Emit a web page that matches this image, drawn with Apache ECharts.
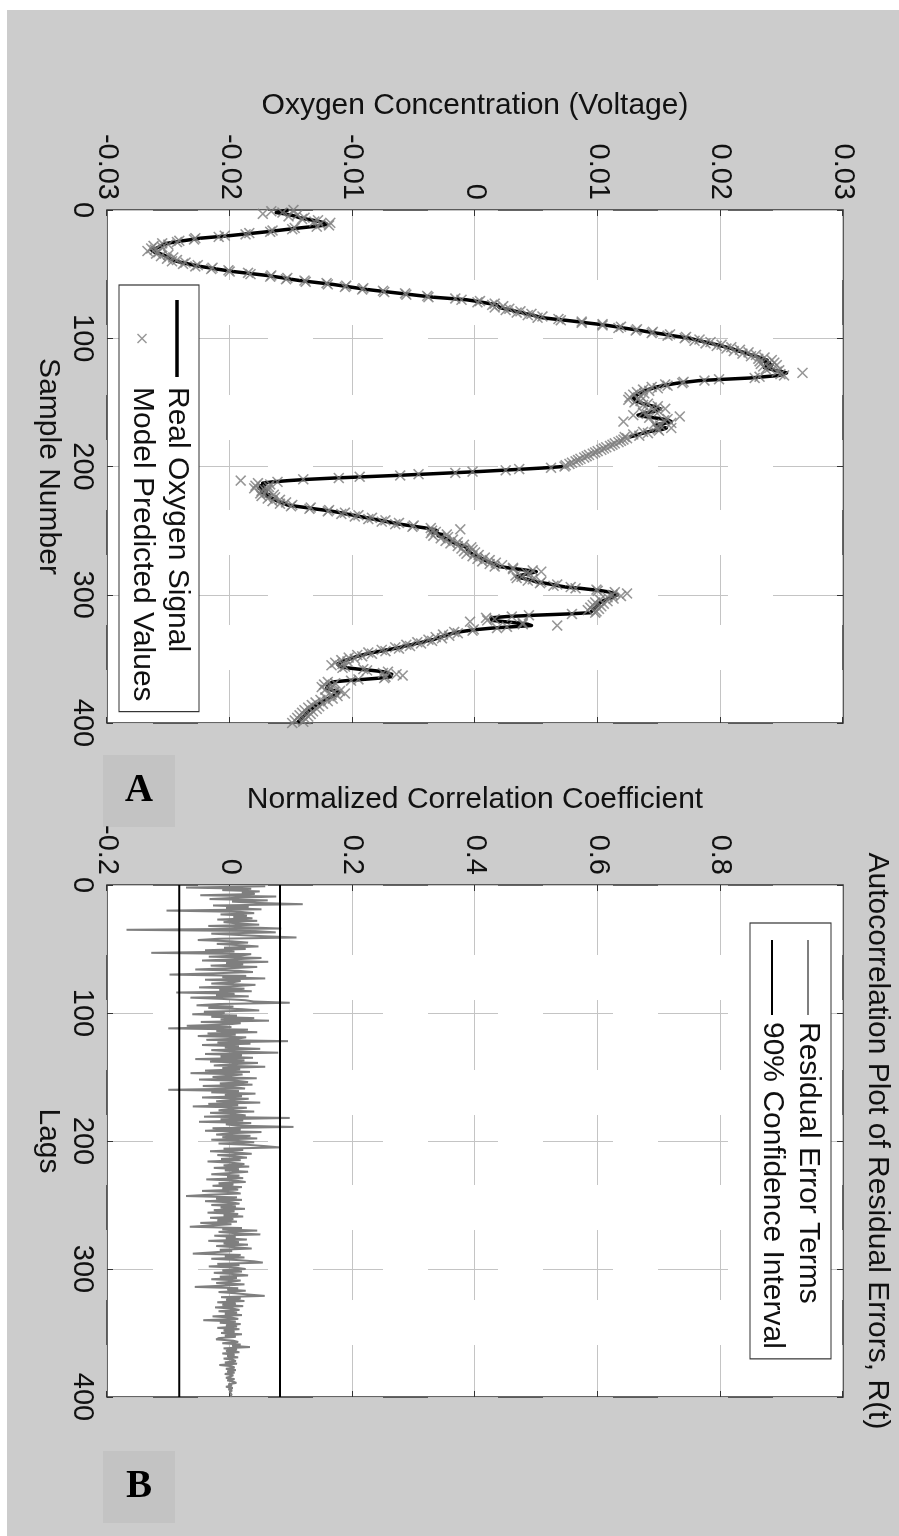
<!DOCTYPE html>
<html>
<head>
<meta charset="utf-8">
<title>Oxygen signal model and residual autocorrelation</title>
<script src="https://cdn.jsdelivr.net/npm/echarts@6.0.0/dist/echarts.min.js"></script>
<style>
  html, body { margin: 0; padding: 0; background: #ffffff; width: 899px; height: 1536px; overflow: hidden; }
  /* The figure is laid out landscape and turned a quarter turn clockwise onto the portrait page. */
  #chart {
    position: absolute; left: 0; top: 0;
    width: 1526px; height: 892px;
    transform-origin: 0 0;
    transform: translate(899px, 10px) rotate(90deg);
  }
</style>
</head>
<body>
<div id="chart"></div>
<script>
// ---------------- data ----------------
// Panel A: measured oxygen signal (V), one value per sample 0..400; null = missing samples
const oxygenReal = [
  -0.0152, -0.0158, -0.0162, -0.0155, -0.0150, -0.0146, -0.0143, -0.0138, -0.0132, -0.0127,
  -0.0123, -0.0121, -0.0124, -0.0133, -0.0143, -0.0152, -0.0161, -0.0170, -0.0180, -0.0190,
  -0.0200, -0.0212, -0.0224, -0.0231, -0.0238, -0.0245, -0.0251, -0.0254, -0.0256, -0.0258,
  -0.0260, -0.0264, -0.0263, -0.0261, -0.0257, -0.0254, -0.0252, -0.0250, -0.0248, -0.0246,
  -0.0243, -0.0239, -0.0234, -0.0229, -0.0224, -0.0217, -0.0211, -0.0204, -0.0197, -0.0188,
  -0.0179, -0.0170, -0.0163, -0.0156, -0.0150, -0.0143, -0.0134, -0.0125, -0.0116, -0.0109,
  -0.0102, -0.0095, -0.0088, -0.0079, -0.0070, -0.0061, -0.0052, -0.0043, -0.0034, -0.0020,
  -0.0007, 0.0000, 0.0006, 0.0012, 0.0018, 0.0019, 0.0020, 0.0024, 0.0029, 0.0033,
  0.0038, 0.0042, 0.0047, 0.0051, 0.0055, 0.0064, 0.0074, 0.0083, 0.0091, 0.0100,
  0.0108, 0.0115, 0.0121, 0.0128, 0.0135, 0.0141, 0.0148, 0.0155, 0.0161, 0.0168,
  0.0175, 0.0179, 0.0183, 0.0188, 0.0192, 0.0197, 0.0201, 0.0205, 0.0209, 0.0212,
  0.0215, 0.0219, 0.0222, 0.0225, 0.0229, 0.0232, 0.0235, 0.0238, 0.0236, 0.0240,
  0.0237, 0.0242, 0.0239, 0.0236, 0.0241, 0.0244, 0.0250, 0.0254, 0.0253, 0.0248,
  0.0236, 0.0224, 0.0203, 0.0183, 0.0174, 0.0165, 0.0159, 0.0153, 0.0148, 0.0145,
  0.0141, 0.0138, 0.0136, 0.0134, 0.0133, 0.0131, 0.0130, 0.0129, 0.0129, 0.0131,
  0.0134, 0.0137, 0.0141, 0.0145, 0.0148, 0.0151, 0.0150, 0.0146, 0.0141, 0.0136,
  0.0133, 0.0138, 0.0146, 0.0153, 0.0158, 0.0160, 0.0156, 0.0150, 0.0147, 0.0152,
  0.0156, 0.0153, 0.0146, 0.0141, 0.0137, 0.0133, 0.0130, 0.0126, null, null,
  null, null, null, null, null, null, null, null, null, null,
  null, null, null, null, null, null, null, null, null, null,
  0.0072, 0.0058, 0.0040, 0.0021, 0.0002, -0.0020, -0.0042, -0.0065, -0.0090, -0.0115,
  -0.0136, -0.0152, -0.0165, -0.0173, -0.0171, -0.0175, -0.0172, -0.0176, -0.0173, -0.0170,
  -0.0174, -0.0171, -0.0168, -0.0170, -0.0167, -0.0165, -0.0163, -0.0161, -0.0158, -0.0155,
  -0.0153, -0.0146, -0.0138, -0.0131, -0.0123, -0.0116, -0.0110, -0.0105, -0.0099, -0.0094,
  -0.0088, -0.0083, -0.0077, -0.0072, -0.0066, -0.0061, -0.0054, -0.0047, -0.0040, -0.0034,
  -0.0031, -0.0036, -0.0032, -0.0027, -0.0030, -0.0026, -0.0024, -0.0022, -0.0020, -0.0018,
  -0.0016, -0.0013, -0.0010, -0.0007, -0.0007, -0.0006, -0.0005, -0.0004, -0.0003, -0.0001,
  0.0002, 0.0004, 0.0006, 0.0008, 0.0010, 0.0013, 0.0016, 0.0018, 0.0020, 0.0027,
  0.0035, 0.0043, 0.0050, 0.0046, 0.0041, 0.0037, 0.0034, 0.0038, 0.0043, 0.0047,
  0.0050, 0.0057, 0.0063, 0.0068, 0.0074, 0.0086, 0.0095, 0.0104, 0.0110, 0.0113,
  0.0116, 0.0115, 0.0112, 0.0109, 0.0106, 0.0104, 0.0102, 0.0101, 0.0100, 0.0099,
  0.0098, 0.0097, 0.0096, 0.0095, 0.0094, 0.0075, 0.0048, 0.0026, 0.0013, 0.0012,
  0.0014, 0.0024, 0.0035, 0.0043, 0.0046, 0.0030, 0.0014, 0.0003, -0.0006, -0.0013,
  -0.0018, -0.0022, -0.0025, -0.0028, -0.0031, -0.0034, -0.0039, -0.0043, -0.0048, -0.0052,
  -0.0057, -0.0061, -0.0066, -0.0072, -0.0077, -0.0083, -0.0088, -0.0092, -0.0096, -0.0099,
  -0.0102, -0.0105, -0.0108, -0.0110, -0.0112, -0.0113, -0.0110, -0.0104, -0.0095, -0.0084,
  -0.0075, -0.0071, -0.0068, -0.0067, -0.0069, -0.0078, -0.0091, -0.0105, -0.0116, -0.0118,
  -0.0119, -0.0120, -0.0121, -0.0121, -0.0118, -0.0114, -0.0111, -0.0110, -0.0113, -0.0116,
  -0.0118, -0.0120, -0.0122, -0.0124, -0.0126, -0.0128, -0.0129, -0.0131, -0.0132, -0.0133,
  -0.0135, -0.0136, -0.0137, -0.0138, -0.0139, -0.0140, -0.0141, -0.0142, -0.0143, -0.0144,
  -0.0145
];

// Panel A: model predicted values (V), one value per sample 0..400
const oxygenPredicted = [
  -0.0148, -0.0166, -0.0157, -0.0173, -0.0145, -0.0152, -0.0139, -0.0141, -0.0128, -0.0131,
  -0.0118, -0.0126, -0.0119, -0.0129, -0.0147, -0.0149, -0.0165, -0.0167, -0.0184, -0.0187,
  -0.0204, -0.0209, -0.0228, -0.0229, -0.0241, -0.0243, -0.0255, -0.0250, -0.0262, -0.0255,
  -0.0264, -0.0261, -0.0267, -0.0258, -0.0260, -0.0250, -0.0256, -0.0246, -0.0251, -0.0243,
  -0.0247, -0.0236, -0.0238, -0.0226, -0.0228, -0.0214, -0.0215, -0.0201, -0.0200, -0.0185,
  -0.0183, -0.0166, -0.0167, -0.0153, -0.0154, -0.0139, -0.0138, -0.0121, -0.0120, -0.0105,
  -0.0106, -0.0091, -0.0092, -0.0075, -0.0074, -0.0057, -0.0056, -0.0039, -0.0038, -0.0016,
  -0.0011, 0.0004, 0.0002, 0.0016, 0.0014, 0.0023, 0.0016, 0.0028, 0.0025, 0.0037,
  0.0034, 0.0046, 0.0043, 0.0055, 0.0051, 0.0068, 0.0070, 0.0087, 0.0087, 0.0104,
  0.0104, 0.0119, 0.0117, 0.0132, 0.0131, 0.0145, 0.0144, 0.0159, 0.0157, 0.0172,
  0.0171, 0.0183, 0.0179, 0.0192, 0.0188, 0.0201, 0.0197, 0.0209, 0.0205, 0.0216,
  0.0211, 0.0223, 0.0218, 0.0229, 0.0225, 0.0236, 0.0231, 0.0242, 0.0232, 0.0244,
  0.0233, 0.0246, 0.0235, 0.0240, 0.0237, 0.0248, 0.0246, 0.0267, 0.0249, 0.0252,
  0.0232, 0.0228, 0.0199, 0.0187, 0.0170, 0.0169, 0.0155, 0.0157, 0.0144, 0.0149,
  0.0137, 0.0142, 0.0132, 0.0138, 0.0129, 0.0135, 0.0126, 0.0133, 0.0125, 0.0135,
  0.0130, 0.0141, 0.0137, 0.0149, 0.0144, 0.0155, 0.0146, 0.0150, 0.0137, 0.0140,
  0.0129, 0.0167, 0.0142, 0.0157, 0.0154, 0.0121, 0.0160, 0.0146, 0.0151, 0.0148,
  0.0160, 0.0149, 0.0150, 0.0137, 0.0141, 0.0129, 0.0134, 0.0122, 0.0124, 0.0121,
  0.0119, 0.0117, 0.0114, 0.0112, 0.0110, 0.0107, 0.0105, 0.0103, 0.0100, 0.0098,
  0.0096, 0.0093, 0.0091, 0.0089, 0.0086, 0.0084, 0.0082, 0.0079, 0.0077, 0.0074,
  0.0073, 0.0062, 0.0036, 0.0025, -0.0002, -0.0016, -0.0046, -0.0061, -0.0094, -0.0111,
  -0.0140, -0.0191, -0.0161, -0.0177, -0.0167, -0.0179, -0.0168, -0.0180, -0.0169, -0.0174,
  -0.0170, -0.0175, -0.0164, -0.0174, -0.0163, -0.0169, -0.0159, -0.0165, -0.0154, -0.0159,
  -0.0149, -0.0150, -0.0134, -0.0135, -0.0119, -0.0120, -0.0106, -0.0109, -0.0095, -0.0098,
  -0.0084, -0.0087, -0.0073, -0.0076, -0.0062, -0.0065, -0.0050, -0.0051, -0.0036, -0.0012,
  -0.0035, -0.0032, -0.0036, -0.0023, -0.0034, -0.0022, -0.0028, -0.0018, -0.0024, -0.0014,
  -0.0020, -0.0009, -0.0014, -0.0003, -0.0011, -0.0002, -0.0009, 0.0000, -0.0007, 0.0003,
  -0.0002, 0.0008, 0.0002, 0.0012, 0.0006, 0.0017, 0.0012, 0.0022, 0.0016, 0.0031,
  0.0031, 0.0047, 0.0054, 0.0042, 0.0045, 0.0033, 0.0038, 0.0034, 0.0047, 0.0043,
  0.0054, 0.0053, 0.0067, 0.0064, 0.0078, 0.0082, 0.0099, 0.0100, 0.0114, 0.0124,
  0.0112, 0.0119, 0.0108, 0.0113, 0.0102, 0.0108, 0.0098, 0.0105, 0.0096, 0.0103,
  0.0094, 0.0101, 0.0092, 0.0099, 0.0098, 0.0079, 0.0044, 0.0030, 0.0009, 0.0016,
  0.0010, -0.0004, 0.0039, 0.0039, 0.0067, 0.0026, 0.0018, -0.0001, -0.0002, -0.0017,
  -0.0014, -0.0026, -0.0021, -0.0032, -0.0027, -0.0038, -0.0035, -0.0047, -0.0044, -0.0056,
  -0.0053, -0.0065, -0.0062, -0.0076, -0.0073, -0.0087, -0.0084, -0.0096, -0.0092, -0.0103,
  -0.0098, -0.0109, -0.0104, -0.0114, -0.0108, -0.0117, -0.0106, -0.0108, -0.0091, -0.0088,
  -0.0071, -0.0075, -0.0064, -0.0059, -0.0073, -0.0074, -0.0095, -0.0101, -0.0120, -0.0114,
  -0.0123, -0.0116, -0.0125, -0.0117, -0.0122, -0.0110, -0.0115, -0.0106, -0.0117, -0.0112,
  -0.0122, -0.0116, -0.0126, -0.0120, -0.0130, -0.0124, -0.0133, -0.0127, -0.0136, -0.0129,
  -0.0139, -0.0132, -0.0141, -0.0134, -0.0143, -0.0136, -0.0145, -0.0138, -0.0147, -0.0140,
  -0.0149
];

// Panel B: autocorrelation of the residuals, lags 1..400
const residualAcf = [
  0.058, -0.071, 0.035, -0.012, 0.049, 0.020, 0.041, -0.048, 0.076, 0.010, -0.033, 0.062, 0.004, 0.045, 0.119, -0.027, 0.031, -0.006, 0.052, -0.103,
  0.018, 0.040, -0.015, 0.028, 0.006, 0.037, -0.020, 0.045, -0.010, 0.012, 0.048, -0.035, 0.023, 0.084, -0.168, 0.042, 0.075, -0.030, 0.012, 0.055,
  0.109, -0.018, -0.052, 0.004, 0.030, -0.021, 0.015, 0.047, -0.009, 0.026, -0.040, 0.008, -0.128, 0.035, 0.020, -0.034, 0.052, 0.011, -0.045, 0.063,
  -0.006, 0.022, -0.031, 0.045, 0.002, -0.056, 0.014, 0.038, -0.025, -0.098, 0.027, -0.012, 0.058, -0.040, 0.018, 0.005, -0.030, 0.042, 0.010, -0.050,
  0.024, -0.017, 0.036, -0.087, 0.008, -0.022, 0.031, -0.064, -0.012, 0.025, 0.039, 0.098, -0.018, -0.054, 0.006, -0.035, 0.020, 0.048, -0.042, -0.008,
  -0.061, 0.012, -0.030, 0.040, -0.015, 0.064, -0.047, 0.018, -0.005, -0.070, 0.003, -0.100, 0.030, -0.022, 0.045, -0.036, 0.010, -0.052, 0.027, 0.012,
  -0.038, 0.095, -0.020, 0.034, -0.045, 0.015, -0.008, 0.050, -0.030, 0.002, 0.079, -0.040, 0.020, -0.015, 0.038, -0.056, 0.024, -0.032, 0.046, 0.006,
  -0.026, 0.058, -0.012, 0.017, -0.040, 0.033, -0.064, 0.021, 0.000, -0.028, 0.044, -0.050, 0.012, 0.030, -0.016, 0.037, -0.044, 0.009, 0.025, -0.100,
  0.015, -0.030, 0.042, -0.008, 0.020, -0.045, 0.031, 0.005, -0.022, 0.050, -0.035, 0.014, -0.060, 0.028, 0.002, -0.018, 0.040, -0.032, 0.010, 0.026,
  -0.042, 0.098, -0.015, 0.022, -0.050, 0.035, -0.006, 0.012, 0.104, -0.028, 0.018, -0.040, 0.052, 0.000, -0.022, 0.034, -0.012, 0.045, -0.030, 0.015,
  0.040, -0.018, 0.030, 0.058, 0.081, -0.010, 0.022, -0.032, 0.012, 0.036, -0.020, 0.008, 0.028, -0.014, 0.018, -0.036, 0.004, 0.024, -0.010, 0.032,
  -0.026, 0.015, -0.008, 0.030, 0.002, -0.030, 0.016, -0.004, 0.022, -0.038, 0.010, 0.026, -0.018, 0.006, -0.028, 0.020, -0.012, 0.014, -0.045, 0.005,
  0.018, -0.034, -0.071, 0.012, -0.022, 0.020, -0.040, 0.004, 0.016, -0.030, 0.010, -0.015, 0.025, -0.026, 0.008, -0.036, 0.014, -0.010, 0.022, -0.032,
  0.006, -0.020, 0.012, -0.048, 0.003, -0.030, -0.065, 0.020, -0.012, 0.045, -0.018, 0.008, 0.050, -0.025, 0.010, -0.006, 0.028, -0.035, 0.015, -0.010,
  0.030, -0.022, 0.008, 0.036, -0.016, 0.004, -0.028, -0.060, 0.018, -0.008, 0.024, -0.030, 0.012, 0.040, 0.054, -0.020, 0.016, -0.034, 0.010, 0.026,
  -0.012, 0.020, -0.026, 0.008, 0.030, -0.016, 0.012, -0.030, 0.018, 0.002, -0.022, 0.024, -0.010, -0.057, 0.014, -0.004, 0.026, -0.018, 0.010, 0.032,
  0.057, -0.014, 0.018, -0.006, 0.024, -0.020, 0.010, -0.012, 0.022, -0.024, 0.006, 0.016, -0.018, 0.012, -0.008, 0.020, -0.028, 0.004, 0.014, -0.043,
  0.010, -0.016, 0.018, -0.006, 0.012, -0.020, 0.016, -0.010, 0.008, -0.014, 0.020, -0.008, 0.010, -0.018, -0.022, 0.006, 0.014, -0.012, 0.018, 0.004,
  0.033, -0.010, 0.012, -0.006, 0.016, -0.012, 0.008, -0.004, 0.014, -0.010, 0.006, 0.010, -0.008, 0.012, -0.017, 0.004, 0.008, -0.006, 0.010, -0.004,
  0.008, -0.008, 0.006, 0.002, -0.006, 0.008, -0.004, 0.006, 0.011, -0.002, 0.004, -0.006, 0.005, -0.002, 0.004, 0.000, -0.003, 0.003, 0.000, 0.001
];

// Panel B: 90% confidence bound (+/-) drawn across the lag range
const confidenceBound = 0.0822;
const lagRange = [0, 400];

// Axis ranges and tick steps
const sampleAxis = { min: 0, max: 400, step: 100 };
const voltageAxis = { min: -0.03, max: 0.03, step: 0.01 };
const correlationAxis = { min: -0.2, max: 1.0, step: 0.2 };

// Text
const labels = {
  sampleName: 'Sample Number',
  lagName: 'Lags',
  voltageName: 'Oxygen Concentration (Voltage)',
  correlationName: 'Normalized Correlation Coefficient',
  title: 'Autocorrelation Plot of Residual Errors, R(t)',
  real: 'Real Oxygen Signal',
  predicted: 'Model Predicted Values',
  residual: 'Residual Error Terms',
  confidence: '90% Confidence Interval',
  panelA: 'A',
  panelB: 'B'
};

// ---------------- styling helpers ----------------
const FONT = '"Liberation Sans", Arial, Helvetica, sans-serif';
const TEXT = '#111111';
const gridLine = { show: true, lineStyle: { color: '#c4c4c4', width: 1, type: [70, 45] } };
const crossMark = 'path://M0,1L1,0L5,4L9,0L10,1L6,5L10,9L9,10L5,6L1,10L0,9L4,5Z';
// plain bar icons for line entries in the legends (width : stroke thickness)
const thickBar = 'path://M0,0L77,0L77,3.5L0,3.5Z';
const midBar = 'path://M0,0L75,0L75,2.2L0,2.2Z';
const thinBar = 'path://M0,0L75,0L75,1.8L0,1.8Z';

const tickStyle = { show: true, inside: true, length: 6, lineStyle: { color: '#333', width: 1 } };

function mainX(gridIndex, name) {
  return {
    gridIndex, type: 'value', position: 'bottom',
    min: sampleAxis.min, max: sampleAxis.max, interval: sampleAxis.step,
    name, nameLocation: 'middle', nameGap: 43,
    nameTextStyle: { fontSize: 30, color: TEXT, fontFamily: FONT },
    axisLine: { show: false, onZero: false },
    axisTick: tickStyle,
    axisLabel: { fontSize: 29, color: TEXT, fontFamily: FONT, margin: 10 },
    splitLine: gridLine
  };
}
function mirrorX(gridIndex) {
  return {
    gridIndex, type: 'value', position: 'top',
    min: sampleAxis.min, max: sampleAxis.max, interval: sampleAxis.step,
    axisLine: { show: false, onZero: false },
    axisTick: tickStyle,
    axisLabel: { show: false }, splitLine: { show: false }
  };
}
function mainY(gridIndex, range, name, gap, digits, hideMax) {
  return {
    gridIndex, type: 'value', position: 'left',
    min: range.min, max: range.max, interval: range.step,
    name, nameLocation: 'middle', nameGap: gap,
    nameTextStyle: { fontSize: 30, color: TEXT, fontFamily: FONT },
    axisLine: { show: false, onZero: false },
    axisTick: tickStyle,
    axisLabel: {
      fontSize: 29, color: TEXT, fontFamily: FONT, margin: 10,
      showMaxLabel: !hideMax,
      formatter: v => String(parseFloat(Number(v).toFixed(digits)) || 0)
    },
    splitLine: gridLine
  };
}
function mirrorY(gridIndex, range) {
  return {
    gridIndex, type: 'value', position: 'right',
    min: range.min, max: range.max, interval: range.step,
    axisLine: { show: false, onZero: false },
    axisTick: tickStyle,
    axisLabel: { show: false }, splitLine: { show: false }
  };
}
function panelTag(cx, cy, letter) {
  return {
    type: 'group', x: cx, y: cy, rotation: Math.PI / 2, silent: true,
    children: [
      { type: 'rect', shape: { x: -36, y: -36, width: 72, height: 72 }, style: { fill: '#c3c3c3' } },
      { type: 'text', style: { text: letter, x: 0, y: 0, align: 'center', verticalAlign: 'middle',
        font: 'bold 39px "Liberation Serif", "Times New Roman", serif', fill: '#000' } }
    ]
  };
}

const legendBase = {
  orient: 'vertical', selectedMode: false,
  backgroundColor: '#ffffff', borderColor: '#333333', borderWidth: 1.2, borderRadius: 0,
  itemHeight: 10,
  textStyle: { fontSize: 30, color: TEXT, fontFamily: FONT }
};

// ---------------- chart ----------------
const chart = echarts.init(document.getElementById('chart'), null, { renderer: 'canvas' });

chart.setOption({
  animation: false,
  backgroundColor: '#cccccc',
  title: {
    text: labels.title, left: 1131, top: 7, textAlign: 'center', padding: 0,
    textStyle: { fontSize: 30, fontWeight: 'normal', color: TEXT, fontFamily: FONT }
  },
  grid: [
    { left: 200, top: 56, width: 513, height: 736, show: true, backgroundColor: '#ffffff',
      borderColor: '#333333', borderWidth: 1.5, outerBoundsMode: 'none' },
    { left: 875, top: 56, width: 512, height: 736, show: true, backgroundColor: '#ffffff',
      borderColor: '#333333', borderWidth: 1.5, outerBoundsMode: 'none' }
  ],
  xAxis: [mainX(0, labels.sampleName), mirrorX(0), mainX(1, labels.lagName), mirrorX(1)],
  yAxis: [
    mainY(0, voltageAxis, labels.voltageName, 89, 2, false), mirrorY(0, voltageAxis),
    mainY(1, correlationAxis, labels.correlationName, 70, 1, true), mirrorY(1, correlationAxis)
  ],
  legend: [
    Object.assign({}, legendBase, {
      data: [{ name: labels.real, icon: thickBar }, { name: labels.predicted }],
      left: 275, top: 700, itemWidth: 77, itemGap: 5, padding: [7, 10, 8, 15],
      textStyle: Object.assign({}, legendBase.textStyle, { padding: [0, 0, 0, 5] })
    }),
    Object.assign({}, legendBase, {
      data: [{ name: labels.residual, icon: thinBar }, { name: labels.confidence, icon: midBar }],
      left: 913, top: 68, itemWidth: 75, itemGap: 6, padding: [8, 10, 7, 17],
      textStyle: Object.assign({}, legendBase.textStyle, { padding: [0, 0, 0, 2] })
    })
  ],
  graphic: [panelTag(781, 760, labels.panelA), panelTag(1477, 760, labels.panelB)],
  series: [
    {
      name: labels.real, type: 'line', xAxisIndex: 0, yAxisIndex: 0,
      data: oxygenReal.map((v, i) => [i, v]),
      symbol: 'none', connectNulls: false, z: 2,
      lineStyle: { color: '#000000', width: 3.5, join: 'round' },
      itemStyle: { color: '#000000' }
    },
    {
      name: labels.predicted, type: 'scatter', xAxisIndex: 0, yAxisIndex: 0,
      data: oxygenPredicted.map((v, i) => [i, v]),
      symbol: crossMark, symbolSize: 11, z: 3,
      itemStyle: { color: '#7c7c7c' }
    },
    {
      name: labels.residual, type: 'line', xAxisIndex: 2, yAxisIndex: 2,
      data: residualAcf.map((v, i) => [i + 1, v]),
      symbol: 'none', z: 2,
      lineStyle: { color: '#7f7f7f', width: 2 },
      itemStyle: { color: '#7f7f7f' }
    },
    {
      name: labels.confidence, type: 'line', xAxisIndex: 2, yAxisIndex: 2,
      data: lagRange.map(l => [l, confidenceBound]),
      symbol: 'none', z: 3,
      lineStyle: { color: '#000000', width: 2 }, itemStyle: { color: '#000000' }
    },
    {
      name: labels.confidence, type: 'line', xAxisIndex: 2, yAxisIndex: 2,
      data: lagRange.map(l => [l, -confidenceBound]),
      symbol: 'none', z: 3,
      lineStyle: { color: '#000000', width: 2 }, itemStyle: { color: '#000000' }
    }
  ]
});
</script>
</body>
</html>
